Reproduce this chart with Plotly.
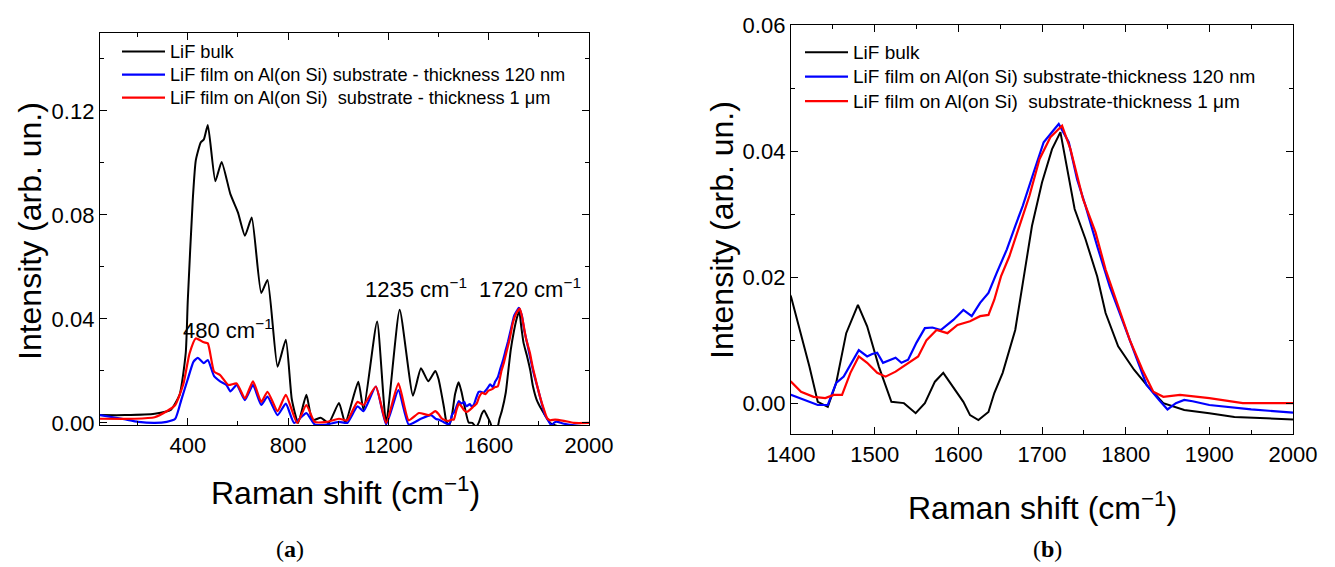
import plotly.graph_objects as go

# ---------------- data ----------------
bulk_x = [50, 150, 268, 332, 368, 392, 400, 420, 432, 452, 464, 480, 510, 535, 570, 600, 628, 655,
          693, 718, 758, 791, 815, 840, 873, 897, 930, 962, 1003, 1028, 1080, 1101, 1155, 1191, 1245,
          1298, 1330, 1359, 1387,
          1400, 1422, 1432, 1444, 1454, 1466, 1480, 1491, 1505, 1520, 1535, 1549, 1560, 1572, 1582,
          1594, 1606, 1614, 1624, 1636, 1643, 1653, 1668, 1677, 1688, 1700, 1712, 1722, 1729, 1739,
          1752, 1766, 1776, 1791, 1810, 1825, 1845, 1870, 1900, 1930, 1968, 2000]
bulk_y = [0.003, 0.003, 0.0035, 0.005, 0.011, 0.027, 0.047, 0.086, 0.101, 0.108, 0.109, 0.1146,
          0.093, 0.1004, 0.088, 0.081, 0.072, 0.079, 0.050, 0.055, 0.0216, 0.032, 0.009, 0.0, 0.0108,
          0.001, 0.002, 0.0, 0.0077, 0.0, 0.0158, 0.005, 0.039, 0.0, 0.0435, 0.0105, 0.021, 0.016,
          0.020,
          0.0169, 0.0058, 0.0002, -0.0006, 0.0032, 0.0111, 0.0156, 0.0122, 0.0058, 0.0002, 0.0,
          -0.0016, 0.0, 0.0034, 0.0048, 0.0026, 0.0002, -0.0019, -0.0027, -0.0014, 0.0016, 0.0048,
          0.0116, 0.019, 0.0281, 0.035, 0.0403, 0.043, 0.0377, 0.0308, 0.026, 0.0201, 0.0143, 0.009,
          0.0053, 0.0029, 0.0, -0.0011, -0.0016, -0.0022, -0.0024, -0.0026]

film120_x = [50, 138, 203, 268, 316, 350, 374, 399, 423, 440, 464, 480, 505, 529, 554, 570, 595,
             628, 660, 693, 718, 758, 791, 824, 873, 906, 954, 1003, 1036, 1077, 1101, 1150, 1191,
             1240, 1281, 1330, 1370, 1390,
             1400, 1417, 1432, 1444, 1454, 1463, 1474, 1481, 1491, 1497, 1503, 1510, 1525, 1532,
             1540, 1550, 1560, 1569, 1579, 1594, 1606, 1616, 1626, 1636, 1646, 1658, 1668, 1677,
             1690, 1702, 1715, 1720, 1732, 1742, 1752, 1766, 1781, 1796, 1810, 1825, 1840, 1850,
             1860, 1870, 1880, 1900, 1950, 2000]
film120_y = [0.003, 0.0016, 0.0004, 0.0, 0.0004, 0.0016, 0.0088, 0.0165, 0.0236, 0.025, 0.023,
             0.0242, 0.018, 0.016, 0.0146, 0.0121, 0.0146, 0.0088, 0.0146, 0.0069, 0.0101, 0.003,
             0.0074, 0.0, 0.0038, -0.0006, -0.0006, 0.0004, 0.0, 0.0064, 0.0045, 0.014, -0.0006,
             0.0126, -0.0006, 0.0016, 0.003, 0.0015,
             0.0013, 0.0005, -0.0003, -0.0003, 0.0032, 0.0042, 0.0069, 0.0084, 0.0074, 0.0078,
             0.008, 0.0064, 0.0072, 0.0064, 0.0069, 0.0096, 0.0119, 0.012, 0.0116, 0.0132, 0.0148,
             0.0138, 0.0159, 0.0175, 0.0207, 0.0244, 0.0281, 0.0313, 0.0366, 0.0414, 0.0435,
             0.0443, 0.0414, 0.0355, 0.0313, 0.0249, 0.0185, 0.0132, 0.008, 0.0029, 0.0005,
             -0.001, 0.0, 0.0005, 0.0003, -0.0003, -0.001, -0.0015]

film1um_x = [50, 187, 268, 316, 350, 383, 407, 432, 464, 480, 505, 529, 562, 595, 628, 660, 693,
             718, 758, 791, 836, 873, 906, 954, 1003, 1036, 1077, 1101, 1150, 1191, 1240, 1281,
             1322, 1362, 1387,
             1400, 1412, 1427, 1441, 1451, 1461, 1471, 1481, 1491, 1503, 1513, 1525, 1540, 1552,
             1562, 1574, 1587, 1599, 1614, 1626, 1636, 1643, 1651, 1661, 1673, 1685, 1697, 1710,
             1724, 1734, 1749, 1764, 1776, 1791, 1805, 1820, 1833, 1845, 1865, 1900, 1940, 2000]
film1um_y = [0.0016, 0.0016, 0.0022, 0.0045, 0.0069, 0.0152, 0.0267, 0.0325, 0.031, 0.0306,
             0.0197, 0.0184, 0.0146, 0.0152, 0.0094, 0.016, 0.0081, 0.012, 0.0045, 0.0108, 0.0,
             0.0069, 0.0004, 0.0004, 0.0016, 0.001, 0.0081, 0.0069, 0.014, 0.0, 0.0152, 0.001,
             0.0038, 0.003, 0.0045,
             0.0034, 0.0018, 0.001, 0.0008, 0.0013, 0.0013, 0.0048, 0.0074, 0.0064, 0.0048, 0.0042,
             0.005, 0.0064, 0.0074, 0.01, 0.0116, 0.0111, 0.0124, 0.013, 0.0138, 0.014, 0.0164,
             0.0201, 0.0233, 0.0281, 0.0329, 0.0387, 0.0422, 0.044, 0.0403, 0.0324, 0.0271, 0.0212,
             0.0153, 0.01, 0.0053, 0.0018, 0.001, 0.0013, 0.0008, 0.0, 0.0]

names_a = ["LiF bulk",
           "LiF film on Al(on Si) substrate - thickness 120 nm",
           "LiF film on Al(on Si) \u00a0substrate - thickness 1 \u03bcm"]
names_b = ["LiF bulk",
           "LiF film on Al(on Si) substrate-thickness 120 nm",
           "LiF film on Al(on Si) \u00a0substrate-thickness 1 \u03bcm"]
colors = ["#000000", "#0000ff", "#ff0000"]
peak_labels = ["480 cm<sup>\u22121</sup>", "1235 cm<sup>\u22121</sup>", "1720 cm<sup>\u22121</sup>"]

# ---------------- figure ----------------
W, H = 1335, 567
def X(px):
    return px / W
def Y(py):
    return 1 - py / H

FONT = "Liberation Sans, Arial, sans-serif"
series = [(bulk_x, bulk_y), (film120_x, film120_y), (film1um_x, film1um_y)]

def big(txt, size):
    return '<span style="font-size:%spx">%s</span>' % (size, txt)

fig = go.Figure()
for i, (xs, ys) in enumerate(series):
    fig.add_trace(go.Scatter(x=xs, y=ys, mode="lines", name=big(names_a[i], 18.2),
                             line=dict(color=colors[i], width=2.2 if i else 2,
                                       shape="spline", smoothing=0.5),
                             xaxis="x", yaxis="y", legend="legend"))
for i, (xs, ys) in enumerate(series):
    fig.add_trace(go.Scatter(x=xs, y=ys, mode="lines", name=big(names_b[i], 19),
                             line=dict(color=colors[i], width=2.2 if i else 2),
                             xaxis="x2", yaxis="y2", legend="legend2"))

axis_common = dict(showline=True, linecolor="black", linewidth=1.3, mirror="ticks",
                   ticks="inside", ticklen=7, tickwidth=1.2, tickcolor="black",
                   showgrid=False, zeroline=False, automargin=False,
                   tickfont=dict(family=FONT, size=22, color="black"))

fig.update_layout(
    width=W, height=H, margin=dict(l=0, r=0, t=0, b=0, autoexpand=False),
    paper_bgcolor="white", plot_bgcolor="white",
    font=dict(family=FONT, color="black"),
    xaxis=dict(domain=[X(100), X(589)], range=[50, 2000], dtick=400, tick0=0,
               minor=dict(dtick=200, ticklen=3.5, tickcolor="black", ticks="inside"),
               anchor="y", **axis_common),
    yaxis=dict(domain=[Y(425), Y(33)], range=[-0.0008, 0.15], dtick=0.04, tick0=0,
               tickformat=".2f",
               minor=dict(dtick=0.02, ticklen=3.5, tickcolor="black", ticks="inside"),
               anchor="x", **axis_common),
    xaxis2=dict(domain=[X(791), X(1293)], range=[1400, 2000], dtick=100, tick0=0,
                minor=dict(dtick=50, ticklen=3.5, tickcolor="black", ticks="inside"),
                anchor="y2", **axis_common),
    yaxis2=dict(domain=[Y(434), Y(25)], range=[-0.0049, 0.06], dtick=0.02, tick0=0,
                tickformat=".2f",
                minor=dict(dtick=0.01, ticklen=3.5, tickcolor="black", ticks="inside"),
                anchor="x2", **axis_common),
    legend=dict(x=X(117), y=Y(35), xanchor="left", yanchor="top",
                bgcolor="rgba(0,0,0,0)", font=dict(family=FONT, size=15.4, color="black"),
                tracegroupgap=0, itemwidth=43),
    legend2=dict(x=X(800), y=Y(35), xanchor="left", yanchor="top",
                 bgcolor="rgba(0,0,0,0)", font=dict(family=FONT, size=16.5, color="black"),
                 tracegroupgap=0, itemwidth=43),
    showlegend=True,
)

ann = []
# peak labels on panel (a)
for txt, px, py in zip(peak_labels, [181, 363, 477], [329, 288, 288]):
    ann.append(dict(text=txt, x=X(px), y=Y(py), xref="paper", yref="paper",
                    xanchor="left", yanchor="middle", showarrow=False,
                    font=dict(family=FONT, size=22, color="black")))
# axis titles
for px, py in [(345, 491), (1042, 506)]:
    ann.append(dict(text="Raman shift (cm<sup>\u22121</sup>)", x=X(px), y=Y(py),
                    xref="paper", yref="paper", xanchor="center", yanchor="middle",
                    showarrow=False, font=dict(family=FONT, size=32, color="black")))
for px, py in [(30, 231), (722, 230)]:
    ann.append(dict(text="Intensity (arb. un.)", x=X(px), y=Y(py), textangle=-90,
                    xref="paper", yref="paper", xanchor="center", yanchor="middle",
                    showarrow=False, font=dict(family=FONT, size=32, color="black")))
# panel captions
for txt, px in [("(<b>a</b>)", 290), ("(<b>b</b>)", 1047)]:
    ann.append(dict(text=txt, x=X(px), y=Y(549), xref="paper", yref="paper",
                    xanchor="center", yanchor="middle", showarrow=False,
                    font=dict(family="Liberation Serif, Times New Roman, serif", size=24,
                              color="black")))
fig.update_layout(annotations=ann)

fig.write_html("out.html")
